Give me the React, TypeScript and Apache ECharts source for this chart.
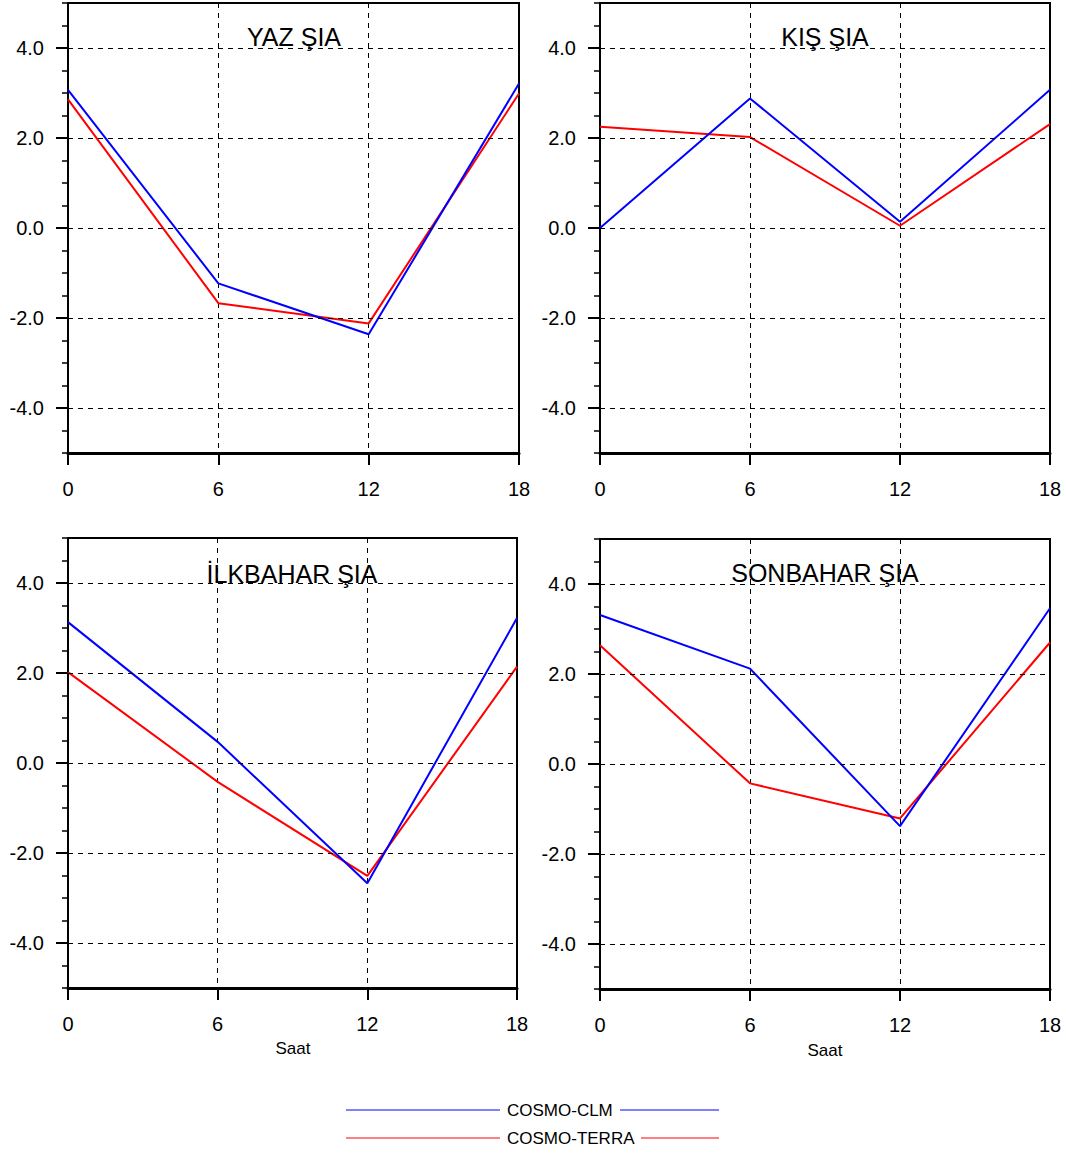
import React, { useEffect, useRef } from "react";
import * as echarts from "echarts";

const hours = [0, 6, 12, 18];
const xTicks = [0, 6, 12, 18];
const yMajor = [-4, -2, 0, 2, 4];

const yazCLM = [3.07, -1.23, -2.36, 3.21];
const yazTERRA = [2.86, -1.67, -2.12, 2.99];
const kisCLM = [0.0, 2.88, 0.14, 3.07];
const kisTERRA = [2.25, 2.02, 0.05, 2.31];
const ilkCLM = [3.13, 0.47, -2.67, 3.22];
const ilkTERRA = [2.02, -0.42, -2.51, 2.14];
const sonCLM = [3.31, 2.12, -1.38, 3.46];
const sonTERRA = [2.64, -0.43, -1.21, 2.7];

const titles = ["YAZ ŞIA", "KIŞ ŞIA", "İLKBAHAR ŞIA", "SONBAHAR ŞIA"];
const seriesNames = ["COSMO-CLM", "COSMO-TERRA"];
const xName = "Saat";

const FONT = "Liberation Sans, Arial, Helvetica, sans-serif";

export default function App() {
  const ref = useRef<HTMLDivElement>(null);

  useEffect(() => {
    if (!ref.current) return;
    const chart = echarts.init(ref.current, undefined, { renderer: "svg" });

    const panels = [
      { left: 68, top: 3, width: 451, height: 450, clm: yazCLM, terra: yazTERRA, tx: 294, ty: 37 },
      { left: 600, top: 3, width: 450, height: 450, clm: kisCLM, terra: kisTERRA, tx: 825, ty: 37 },
      { left: 68, top: 538, width: 449, height: 450, clm: ilkCLM, terra: ilkTERRA, tx: 292, ty: 574 },
      { left: 600, top: 539, width: 450, height: 450, clm: sonCLM, terra: sonTERRA, tx: 825, ty: 573 },
    ];

    const isMajor = (v: number) => {
      const r = Math.round(v);
      return Math.abs(r - v) < 1e-6 && r % 2 === 0 && Math.abs(r) < 5;
    };

    const grid: any[] = [];
    const xAxis: any[] = [];
    const yAxis: any[] = [];
    const series: any[] = [];
    const graphic: any[] = [];

    panels.forEach((p, i) => {
      grid.push({
        left: p.left,
        top: p.top,
        width: p.width,
        height: p.height,
        show: true,
        borderColor: "#000",
        borderWidth: 2,
        backgroundColor: "transparent",
      });
      xAxis.push({
        gridIndex: i,
        type: "value",
        min: 0,
        max: 18,
        interval: 6,
        axisLine: { show: true, onZero: false, lineStyle: { color: "#000", width: 3 } },
        axisTick: { show: true, inside: false, length: 12, lineStyle: { color: "#000", width: 2 } },
        axisLabel: { fontSize: 20, color: "#000", margin: 26, fontFamily: FONT },
        splitLine: { show: true, lineStyle: { type: [5, 5], color: "#000", width: 1 } },
      });
      yAxis.push({
        gridIndex: i,
        type: "value",
        min: -5,
        max: 5,
        interval: 0.5,
        axisLine: { show: true, onZero: false, lineStyle: { color: "#000", width: 2 } },
        axisTick: { show: true, inside: false, length: 6, lineStyle: { color: "#000", width: 1.5 } },
        axisLabel: {
          fontSize: 20,
          color: "#000",
          margin: 24,
          fontFamily: FONT,
          formatter: (v: number) => (isMajor(v) ? Math.round(v).toFixed(1) : ""),
        },
        splitLine: { show: false },
      });
      yAxis.push({
        gridIndex: i,
        type: "value",
        min: -5,
        max: 5,
        position: "left",
        axisLine: { show: false },
        axisTick: {
          show: true,
          inside: false,
          length: 12,
          customValues: yMajor,
          lineStyle: { color: "#000", width: 2 },
        },
        axisLabel: { show: false },
        splitLine: { show: false },
      });
      series.push({
        type: "line",
        xAxisIndex: i,
        yAxisIndex: 2 * i,
        data: [],
        z: 1,
        silent: true,
        markLine: {
          silent: true,
          symbol: ["none", "none"],
          label: { show: false },
          lineStyle: { type: [5, 5], color: "#000", width: 1 },
          data: yMajor.map((v) => ({ yAxis: v })),
        },
      });
      series.push({
        type: "line",
        name: seriesNames[1],
        xAxisIndex: i,
        yAxisIndex: 2 * i,
        data: hours.map((h, k) => [h, p.terra[k]]),
        showSymbol: false,
        symbol: "none",
        lineStyle: { color: "#ff0000", width: 2 },
        itemStyle: { color: "#ff0000" },
        z: 3,
      });
      series.push({
        type: "line",
        name: seriesNames[0],
        xAxisIndex: i,
        yAxisIndex: 2 * i,
        data: hours.map((h, k) => [h, p.clm[k]]),
        showSymbol: false,
        symbol: "none",
        lineStyle: { color: "#0000ff", width: 2 },
        itemStyle: { color: "#0000ff" },
        z: 4,
      });
      graphic.push({
        type: "text",
        x: p.tx,
        y: p.ty,
        z: 10,
        style: {
          text: titles[i],
          fill: "#000",
          font: `25px ${FONT}`,
          align: "center",
          verticalAlign: "middle",
        },
      });
    });

    // x axis names
    graphic.push({
      type: "text",
      x: 293,
      y: 1048,
      style: { text: xName, fill: "#000", font: `17px ${FONT}`, align: "center", verticalAlign: "middle" },
    });
    graphic.push({
      type: "text",
      x: 825,
      y: 1050,
      style: { text: xName, fill: "#000", font: `17px ${FONT}`, align: "center", verticalAlign: "middle" },
    });

    // legend
    const legendRows = [
      { name: seriesNames[0], color: "#0000ff", y: 1110, x2: 620 },
      { name: seriesNames[1], color: "#ff0000", y: 1138, x2: 641 },
    ];
    legendRows.forEach((r) => {
      graphic.push({
        type: "line",
        shape: { x1: 346, y1: r.y, x2: 500, y2: r.y },
        style: { stroke: r.color, lineWidth: 1 },
      });
      graphic.push({
        type: "text",
        x: 507,
        y: r.y,
        style: { text: r.name, fill: "#000", font: `17px ${FONT}`, align: "left", verticalAlign: "middle" },
      });
      graphic.push({
        type: "line",
        shape: { x1: r.x2, y1: r.y, x2: 719, y2: r.y },
        style: { stroke: r.color, lineWidth: 1 },
      });
    });

    chart.setOption({
      animation: false,
      backgroundColor: "#fff",
      grid,
      xAxis,
      yAxis,
      series,
      graphic,
    });

    return () => chart.dispose();
  }, []);

  return (
    <div
      ref={ref}
      style={{ position: "absolute", left: 0, top: 0, width: 1066, height: 1153 }}
    />
  );
}
